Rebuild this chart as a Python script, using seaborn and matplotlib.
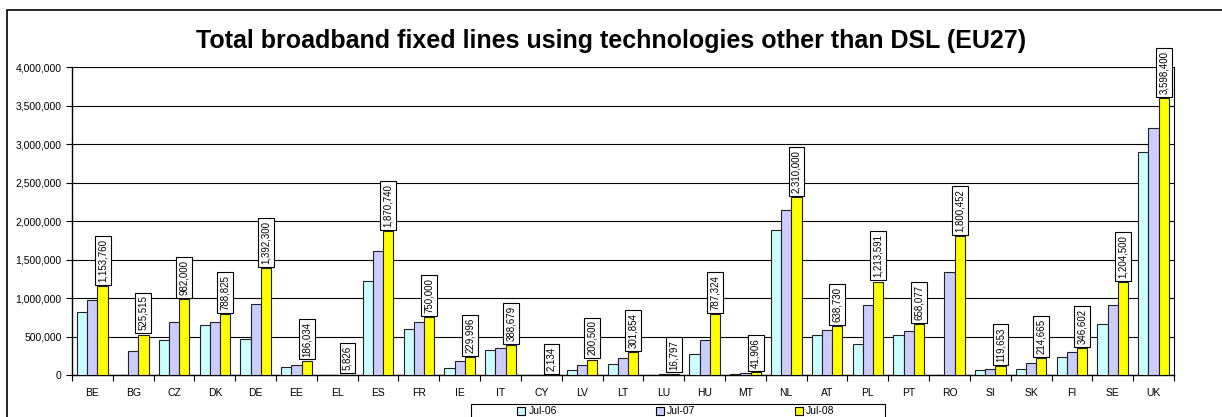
import pandas as pd
import numpy as np
import matplotlib
matplotlib.use("Agg")
import matplotlib.pyplot as plt
import seaborn as sns

# values
countries = ["BE", "BG", "CZ", "DK", "DE", "EE", "EL", "ES", "FR", "IE", "IT", "CY", "LV", "LT",
             "LU", "HU", "MT", "NL", "AT", "PL", "PT", "RO", "SI", "SK", "FI", "SE", "UK"]
jul06 = [816000, 0, 451000, 651000, 473000, 108000, 0, 1219000, 599000, 95000, 325000, 0,
         65000, 147000, 3000, 269000, 18000, 1887000, 521000, 403000, 521000, 0, 65000,
         78000, 234000, 668000, 2902000]
jul07 = [976000, 312000, 690000, 690000, 920000, 134000, 2000, 1605000, 690000, 182000,
         351000, 1000, 134000, 221000, 8000, 460000, 22000, 2139000, 590000, 911000,
         577000, 1332000, 78000, 156000, 304000, 911000, 3202000]
jul08 = [1153760, 525515, 982000, 788825, 1392300, 186034, 5826, 1870740, 750000, 229996,
         388679, 2134, 200500, 301854, 16797, 787324, 41906, 2310000, 638730, 1213591,
         658077, 1800452, 119653, 214665, 346602, 1204500, 3598400]
periods = ["Jul-06", "Jul-07", "Jul-08"]
colors = ["#CCFFFF", "#CCCCFF", "#FFFF00"]

df = pd.DataFrame({
    "country": countries * 3,
    "period": [p for p in periods for _ in countries],
    "lines": jul06 + jul07 + jul08,
})

sns.set_style("white")
plt.rcParams["font.family"] = ["Liberation Sans", "DejaVu Sans"]
plt.rcParams["text.color"] = "black"
plt.rcParams["xtick.color"] = "black"
plt.rcParams["ytick.color"] = "black"

fig = plt.figure(figsize=(12.22, 4.17), dpi=100)
ax = fig.add_axes([0.0589, 0.1007, 0.9018, 0.7386])

sns.barplot(data=df, x="country", y="lines", hue="period", palette=colors, saturation=1,
            width=0.75, edgecolor="#222222", linewidth=0.8, ax=ax, legend=False, zorder=3)

ax.set_ylim(0, 4000000)
ax.set_xlim(-0.5, len(countries) - 0.5)
ax.set_yticks(np.arange(0, 4000001, 500000))
ax.yaxis.set_major_formatter(matplotlib.ticker.FuncFormatter(lambda v, p: f"{int(v):,}"))
ax.yaxis.grid(True, color="black", linewidth=0.8, zorder=0)
ax.set_axisbelow(True)
ax.set_xlabel("")
ax.set_ylabel("")
ax.tick_params(axis="y", labelsize=7.5, length=4, direction="out", left=True, width=0.8)
ax.tick_params(axis="x", which="major", labelsize=7.5, length=0, pad=9)
ax.set_xticks(np.arange(-0.5, len(countries), 1), minor=True)
ax.tick_params(axis="x", which="minor", length=4, width=0.8, direction="out", bottom=True)
for s in ["left", "bottom"]:
    ax.spines[s].set_color("black")
    ax.spines[s].set_linewidth(1)
ax.spines["top"].set_visible(False)
ax.spines["right"].set_color("black")
ax.spines["right"].set_linewidth(0.8)

# value labels above Jul-08 bars
ax.bar_label(ax.containers[2], labels=[f"{v:,}" for v in jul08], rotation=90, padding=3,
             fontsize=7, bbox=dict(boxstyle="square,pad=0.3", fc="white", ec="black", lw=0.8))

handles = [matplotlib.patches.Patch(facecolor=c, edgecolor="black", lw=0.8) for c in colors]
fig.legend(handles, periods, loc="upper center", bbox_to_anchor=(0.553, 0.038),
           ncol=3, fontsize=7.5, frameon=False,
           handlelength=0.8, handleheight=0.8, handletextpad=0.3, columnspacing=9.5,
           borderpad=0.0)
# legend box as in the original (wider than the entries)
fig.patches.append(matplotlib.patches.Rectangle((471 / 1222, -0.05), 414 / 1222, 0.05 + 13 / 417,
                                                transform=fig.transFigure, fill=False,
                                                ec="black", lw=0.8))

fig.text(0.5, 1 - 48 / 417, "Total broadband fixed lines using technologies other than DSL (EU27)",
         ha="center", va="baseline", fontsize=18, fontweight="bold")

# outer chart frame
fig.patches.append(matplotlib.patches.Rectangle((7 / 1222, -0.1), 1.2, 0.1 + 1 - 10 / 417,
                                                transform=fig.transFigure, fill=False,
                                                ec="black", lw=1.2))

fig.savefig("out.png", dpi=100)
